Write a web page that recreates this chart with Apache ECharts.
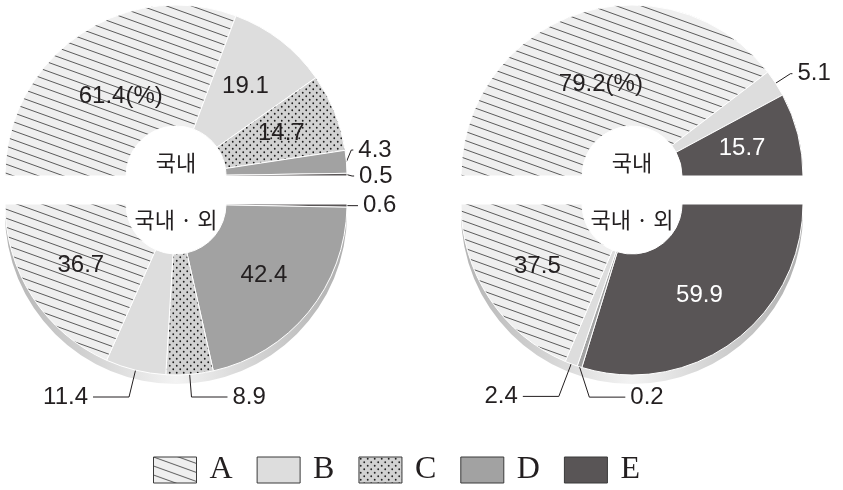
<!DOCTYPE html>
<html><head><meta charset="utf-8">
<script src="https://cdn.jsdelivr.net/npm/echarts@6/dist/echarts.min.js"></script>
<style>html,body{margin:0;padding:0;background:#fff}#c{width:843px;height:490px}</style>
</head><body><div id="c"></div>
<script>
// ---- data ----
const categories = ['A', 'B', 'C', 'D', 'E'];
const leftDomesticNames = ['A', 'B', 'C', 'D', 'E'];
const leftDomesticValues = [61.4, 19.1, 14.7, 4.3, 0.5];
const leftOverallNames = ['E', 'D', 'C', 'B', 'A'];
const leftOverallValues = [0.6, 42.4, 8.9, 11.4, 36.7];
const rightDomesticNames = ['A', 'B', 'E'];
const rightDomesticValues = [79.2, 5.1, 15.7];
const rightOverallNames = ['E', 'D', 'B', 'A'];
const rightOverallValues = [59.9, 0.2, 2.4, 37.5];
const domesticLabel = '국내';
const overallLabel = '국내 · 외';
const unitSuffix = '(%)';

// ---- layout / style ----
const R_IN = 50, R_OUT = 171;
const CX_L = 176, CX_R = 632, CY_TOP = 176, CY_BOT = 204, SHADOW_DY = 9;
const LABEL_DROP = 22;      // outside labels below the lower halves sit this far below the rim
const WIDE_LABEL_R = 97;    // radius for the wide "(%)" labels
const TXT = '#231f20';
const NUM_FONT = '"Liberation Sans", Arial, sans-serif';

function hatchCanvas() {
  const c = document.createElement('canvas'); c.width = 25; c.height = 9;
  const g = c.getContext('2d');
  g.fillStyle = '#efefef'; g.fillRect(0, 0, 25, 9);
  g.strokeStyle = '#4a4a4a'; g.lineWidth = 0.9;
  [-9, 0, 9].forEach(o => { g.beginPath(); g.moveTo(0, o); g.lineTo(25, o + 9); g.stroke(); });
  return c;
}
function dotCanvas() {
  const c = document.createElement('canvas'); c.width = 7; c.height = 7;
  const g = c.getContext('2d');
  g.fillStyle = '#d2d2d2'; g.fillRect(0, 0, 7, 7);
  g.fillStyle = '#1e1e1e';
  [[1.75, 1.75], [5.25, 5.25]].forEach(p => { g.beginPath(); g.arc(p[0], p[1], 0.9, 0, Math.PI * 2); g.fill(); });
  return c;
}
const colorOf = {
  A: { image: hatchCanvas(), repeat: 'repeat' },
  B: '#dddddd',
  C: { image: dotCanvas(), repeat: 'repeat' },
  D: '#a2a2a2',
  E: '#595556'
};

function halfPie(names, values, cx, top, opts) {
  const cy = top ? CY_TOP : CY_BOT;
  const total = values.reduce((a, b) => a + b, 0);
  let cum = 0;
  const mids = [];
  const data = names.map((n, i) => {
    const v = values[i];
    const midFrac = (cum + v / 2) / total; cum += v;
    const midDeg = top ? 180 - midFrac * 180 : -midFrac * 180;
    mids.push(midDeg);
    const s = Math.abs(Math.sin(midDeg * Math.PI / 180));
    const inside = v >= 12;
    let ll;
    if (top) ll = { length: 10 + 14 * s, length2: 2 };
    else if (s > 0.7) ll = { length: (R_OUT * (1 - s) + LABEL_DROP) / s, length2: 36 };
    else ll = { length: 5, length2: 6 };
    return {
      name: n, value: v,
      itemStyle: { color: colorOf[n] },
      label: {
        position: inside ? 'inside' : 'outside',
        color: (inside && n === 'E') ? '#ffffff' : TXT
      },
      labelLine: ll
    };
  });
  const flip = opts.flip || [];
  const s = {
    type: 'pie', center: [cx, cy], radius: [R_IN, R_OUT],
    startAngle: top ? 180 : 0, endAngle: top ? 0 : -180, clockwise: true,
    minAngle: 1.6, avoidLabelOverlap: opts.avoid !== false, z: 2,
    animation: false, silent: true,
    itemStyle: { borderColor: '#ffffff', borderWidth: 1 },
    label: {
      fontFamily: NUM_FONT, fontSize: 24, color: TXT, distanceToLabelLine: 5,
      formatter: p => String(p.value) + ((top && p.dataIndex === 0) ? unitSuffix : '')
    },
    labelLine: { show: true, smooth: false, lineStyle: { color: TXT, width: 1 } },
    emphasis: { disabled: true },
    labelLayout: function (p) {
      if (top && p.dataIndex === 0 && values[0] >= 12) {
        const a = mids[0] * Math.PI / 180;
        return { x: cx + WIDE_LABEL_R * Math.cos(a), y: cy - WIDE_LABEL_R * Math.sin(a), align: 'center', verticalAlign: 'middle' };
      }
      if (flip.indexOf(names[p.dataIndex]) < 0 || !p.labelLinePoints) return {};
      const x0 = p.labelLinePoints[0][0];
      const np = p.labelLinePoints.map(q => [2 * x0 - q[0], q[1]]);
      return { x: np[2][0] + 5, y: np[2][1], align: 'left', verticalAlign: 'middle', labelLinePoints: np };
    },
    data: data
  };
  if (opts.boxHeight) { s.left = 0; s.top = 0; s.width = 843; s.height = opts.boxHeight; }
  return s;
}

function shadowPie(cx, values) {
  const total = values.reduce((a, b) => a + b, 0);
  return {
    type: 'pie', center: [cx, CY_BOT + SHADOW_DY], radius: [R_IN, R_OUT],
    startAngle: 0, endAngle: -180, clockwise: true, z: 1, silent: true, animation: false,
    label: { show: false }, labelLine: { show: false }, emphasis: { disabled: true },
    itemStyle: {
      color: { type: 'linear', x: 0, y: 0, x2: 1, y2: 0, colorStops: [
        { offset: 0, color: '#b4b4b4' }, { offset: 0.5, color: '#f3f3f3' }, { offset: 1, color: '#afafaf' }] }
    },
    data: [{ name: 'shadow', value: total }]
  };
}

function centerText(x, y, text) {
  return { type: 'text', x: x, y: y, z: 10, silent: true,
    style: { text: text, fontSize: 22, fontFamily: '"Noto Sans CJK KR", sans-serif', fill: TXT,
      align: 'center', verticalAlign: 'middle', textAlign: 'center', textVerticalAlign: 'middle' } };
}

const chart = echarts.init(document.getElementById('c'), null, { renderer: 'canvas' });
chart.setOption({
  backgroundColor: '#ffffff',
  animation: false,
  legend: {
    data: categories, left: 148, top: 449, itemWidth: 43, itemHeight: 26, itemGap: 24,
    icon: 'rect', selectedMode: false,
    itemStyle: { borderColor: '#3a3a3a', borderWidth: 1 },
    textStyle: { fontFamily: '"Liberation Serif", serif', fontSize: 32, color: TXT, width: 24, padding: [0, 0, 0, 8] }
  },
  graphic: [
    centerText(CX_L, CY_TOP - 13, domesticLabel),
    centerText(CX_L, CY_BOT + 16, overallLabel),
    centerText(CX_R, CY_TOP - 13, domesticLabel),
    centerText(CX_R, CY_BOT + 16, overallLabel)
  ],
  series: [
    shadowPie(CX_L, leftOverallValues),
    shadowPie(CX_R, rightOverallValues),
    halfPie(leftDomesticNames, leftDomesticValues, CX_L, true, { boxHeight: 189 }),
    halfPie(leftOverallNames, leftOverallValues, CX_L, false, {}),
    halfPie(rightDomesticNames, rightDomesticValues, CX_R, true, {}),
    halfPie(rightOverallNames, rightOverallValues, CX_R, false, { avoid: false, flip: ['D'] })
  ]
});
</script></body></html>
